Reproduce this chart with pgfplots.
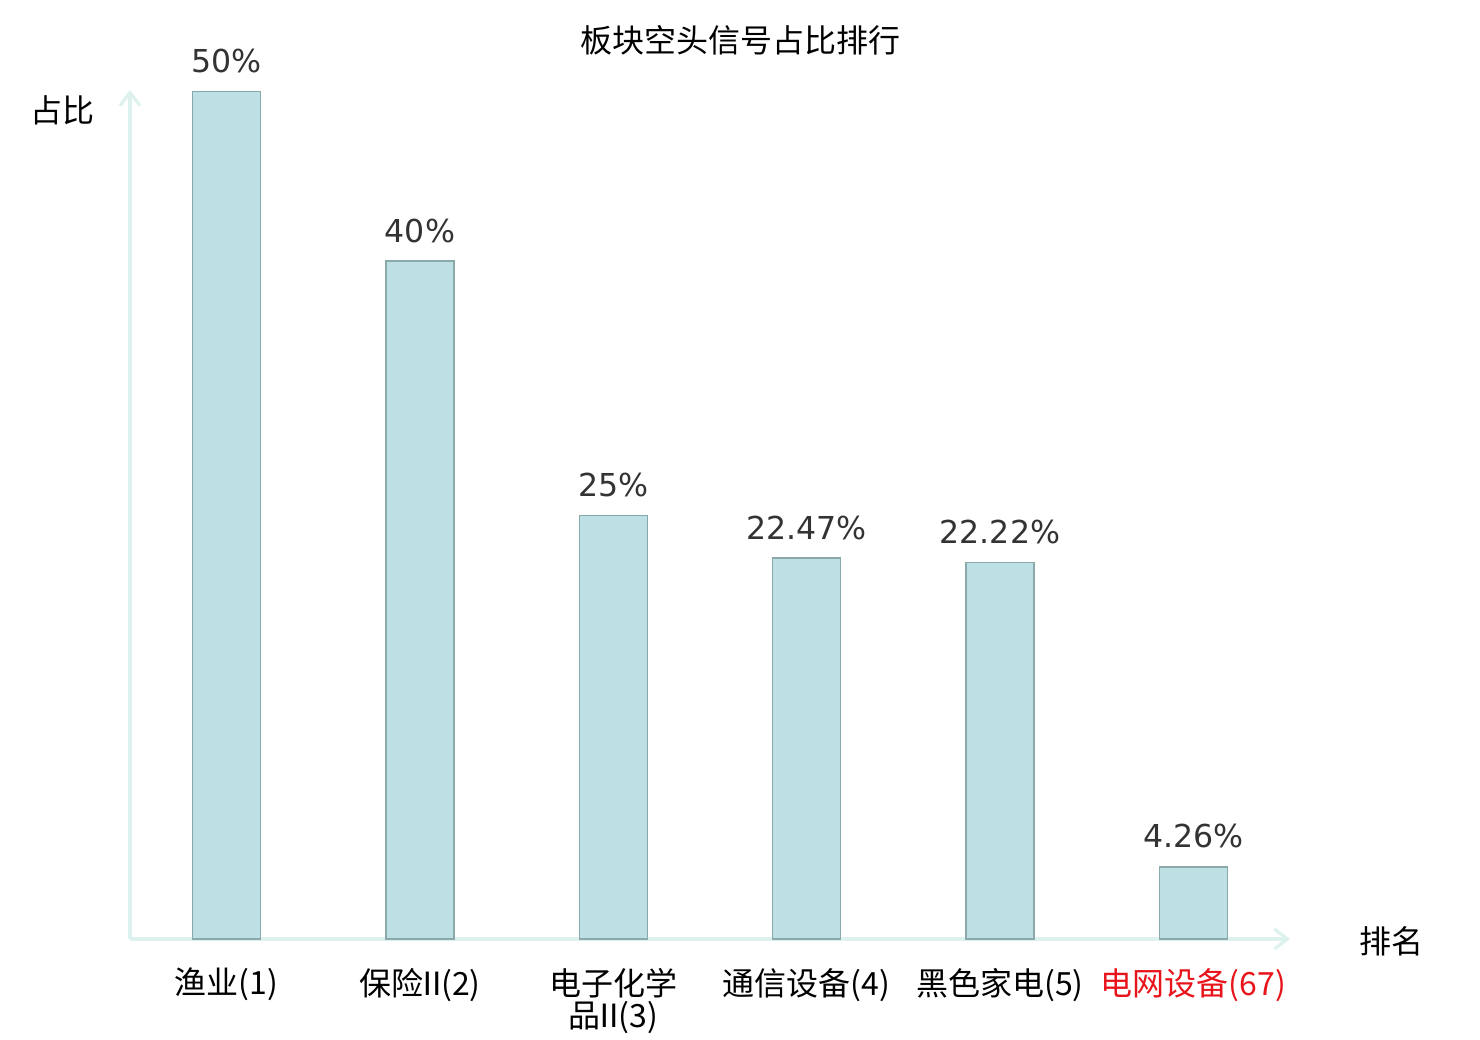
\documentclass[border=0pt]{standalone}
\usepackage{pgfplots}
\pgfplotsset{compat=1.18}
\usepackage{fontspec}
\setmainfont{DejaVu Sans}
\newfontfamily\cjk{Noto Sans CJK SC}
\usetikzlibrary{arrows.meta}
\definecolor{barfill}{HTML}{BCE0E3}
\definecolor{baredge}{HTML}{8BA9AB}
\definecolor{axcol}{HTML}{DDF1EF}
\definecolor{lblcol}{HTML}{333333}
\definecolor{redlbl}{HTML}{E8141B}
\newcommand{\rII}{\kern-0.22emⅡ\kern-0.22em}
\begin{document}
\begin{tikzpicture}
\path[use as bounding box] (0,0) rectangle (740pt,520pt);
\begin{axis}[
  at={(65pt,50.5pt)}, anchor=south west,
  scale only axis, width=580pt, height=424.5pt,
  xmin=-0.5, xmax=5.5, ymin=0, ymax=50.1,
  axis lines=left,
  axis line style={draw=axcol, line width=1.6pt, -{Straight Barb[length=6.5pt,width=10pt,line width=1.6pt]}},
  ytick=\empty,
  xtick={0,1,2,3,4,5},
  major tick length=0pt,
  xticklabels={{渔业(1)},{保险\rII(2)},{电子化学\\品\rII(3)},{通信设备(4)},{黑色家电(5)},{\textcolor{redlbl}{电网设备(67)}}},
  xticklabel style={font=\cjk\fontsize{16}{16}\selectfont, align=center, anchor=north, yshift=-11pt},
  ybar, bar width=34pt, bar shift=0pt,
  point meta=explicit symbolic,
  nodes near coords,
  nodes near coords style={font=\fontsize{15.8}{18}\selectfont, text=lblcol, anchor=base, yshift=9.5pt},
  clip=false,
]
\addplot[fill=barfill, draw=baredge, line width=0.8pt] coordinates {
 (0,50) [50\%]
 (1,40) [40\%]
 (2,25) [25\%]
 (3,22.47) [22.47\%]
 (4,22.22) [22.22\%]
 (5,4.26) [4.26\%]
};
\end{axis}
\node[font=\cjk\fontsize{16}{18}\selectfont, anchor=base] at (370pt,493.5pt) {板块空头信号占比排行};
\node[font=\cjk\fontsize{16}{18}\selectfont] at (31.5pt,465pt) {占比};
\node[font=\cjk\fontsize{16}{18}\selectfont] at (695.5pt,49.5pt) {排名};
\end{tikzpicture}
\end{document}
